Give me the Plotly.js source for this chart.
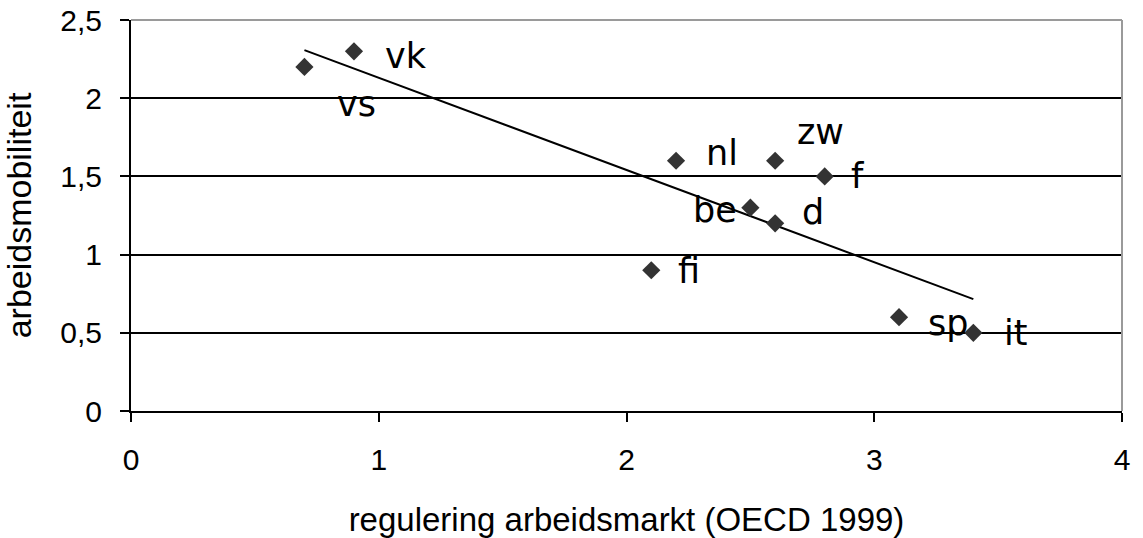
<!DOCTYPE html>
<html>
<head>
<meta charset="utf-8">
<script src="https://cdn.plot.ly/plotly-3.0.1.min.js"></script>
<style>
  html, body { margin: 0; padding: 0; background: #ffffff; }
  #chart { width: 1143px; height: 538px; }
</style>
</head>
<body>
<div id="chart"></div>
<script>
// Country codes and their values
const countries = ['vs', 'vk', 'nl', 'zw', 'f', 'be', 'd', 'fi', 'sp', 'it'];
const regulation = [0.7, 0.9, 2.2, 2.6, 2.8, 2.5, 2.6, 2.1, 3.1, 3.4];   // regulering arbeidsmarkt (OECD 1999)
const mobility   = [2.2, 2.3, 1.6, 1.6, 1.5, 1.3, 1.2, 0.9, 0.6, 0.5];   // arbeidsmobiliteit

const xTicks = [0, 1, 2, 3, 4];
const yTicks = [0, 0.5, 1, 1.5, 2, 2.5];
const yTickText = ['0', '0,5', '1', '1,5', '2', '2,5'];

// Least-squares trend line across the observed x span
function linearFit(xs, ys) {
  const n = xs.length;
  const mx = xs.reduce((a, b) => a + b, 0) / n;
  const my = ys.reduce((a, b) => a + b, 0) / n;
  let sxy = 0, sxx = 0;
  for (let i = 0; i < n; i++) {
    sxy += (xs[i] - mx) * (ys[i] - my);
    sxx += (xs[i] - mx) * (xs[i] - mx);
  }
  const slope = sxy / sxx;
  return { slope: slope, intercept: my - slope * mx };
}
const fit = linearFit(regulation, mobility);
const xMin = Math.min(...regulation);
const xMax = Math.max(...regulation);
const trendX = [xMin, xMax];
const trendY = trendX.map(x => fit.intercept + fit.slope * x);

// Label placement (pixel shifts from each marker)
const labelShift = {
  vs: [52, -37], vk: [52, -5], nl: [46, 8], zw: [45, 29], f: [33, 0],
  be: [-35, -2], d: [38, 11], fi: [38, -1], sp: [49, -6], it: [42, 0]
};

const traces = [
  {
    x: trendX, y: trendY, type: 'scatter', mode: 'lines',
    line: { color: '#000000', width: 2 }, hoverinfo: 'skip'
  },
  {
    x: regulation, y: mobility, type: 'scatter', mode: 'markers',
    marker: { symbol: 'diamond', size: 14, color: '#333333', line: { width: 0 } },
    text: countries, hoverinfo: 'text+x+y'
  }
];

const annotations = countries.map((c, i) => ({
  x: regulation[i], y: mobility[i], xref: 'x', yref: 'y',
  text: c, showarrow: false,
  xanchor: 'center', yanchor: 'middle',
  xshift: labelShift[c][0], yshift: labelShift[c][1],
  font: { family: 'DejaVu Sans, Verdana, sans-serif', size: 35, color: '#000000' }
}));

const layout = {
  width: 1143, height: 538,
  margin: { l: 131, r: 21, t: 20, b: 127 },
  paper_bgcolor: '#ffffff', plot_bgcolor: '#ffffff',
  showlegend: false,
  separators: ',.',
  font: { family: 'Liberation Sans, Arial, sans-serif', size: 30, color: '#000000' },
  xaxis: {
    range: [0, 4], tickvals: xTicks, ticktext: xTicks.map(String),
    showgrid: false, zeroline: false,
    showline: true, linecolor: '#000000', linewidth: 2,
    ticks: 'outside', ticklen: 9, tickwidth: 2, tickcolor: '#000000',
    ticklabelstandoff: 12,
    title: { text: 'regulering arbeidsmarkt (OECD 1999)', font: { size: 33 }, standoff: 34 }
  },
  yaxis: {
    range: [0, 2.5], tickvals: yTicks, ticktext: yTickText,
    showgrid: true, gridcolor: '#000000', gridwidth: 2, zeroline: false,
    showline: true, linecolor: '#000000', linewidth: 2,
    ticks: 'outside', ticklen: 9, tickwidth: 2, tickcolor: '#000000',
    ticklabelstandoff: 12,
    title: { text: 'arbeidsmobiliteit', font: { size: 34 }, standoff: 19 }
  },
  shapes: [
    // grey frame on the top and right edges of the plot area
    { type: 'line', xref: 'paper', yref: 'paper', x0: 0, x1: 1, y0: 1, y1: 1,
      line: { color: '#9a9a9a', width: 2 }, layer: 'above' },
    { type: 'line', xref: 'paper', yref: 'paper', x0: 1, x1: 1, y0: 0, y1: 1,
      line: { color: '#9a9a9a', width: 2 }, layer: 'above' }
  ],
  annotations: annotations
};

Plotly.newPlot('chart', traces, layout, { displayModeBar: false, staticPlot: true });
</script>
</body>
</html>
